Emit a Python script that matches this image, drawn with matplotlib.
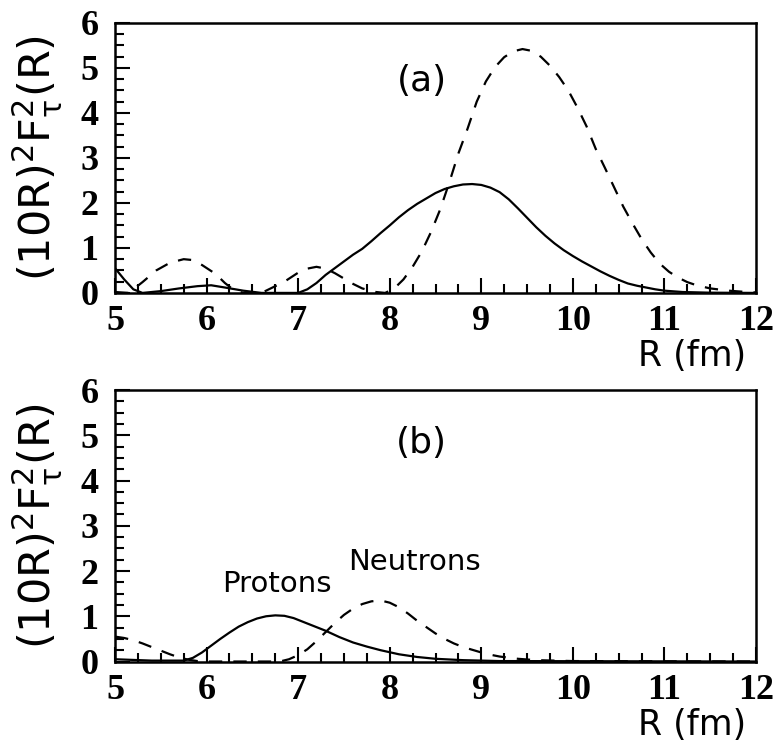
import numpy as np
import matplotlib
matplotlib.use("Agg")
import matplotlib.pyplot as plt
from matplotlib.ticker import MultipleLocator

# panel (a): R in fm
r_a_solid = [5.0, 5.1, 5.2, 5.3, 5.5, 5.7, 5.9, 6.05, 6.2, 6.4, 6.6, 7.0, 7.1, 7.2, 7.3,
             7.4, 7.5, 7.6, 7.7, 7.8, 7.9, 8.0, 8.1, 8.2, 8.3, 8.4, 8.5, 8.6, 8.7, 8.8,
             8.9, 9.0, 9.1, 9.2, 9.3, 9.4, 9.5, 9.6, 9.7, 9.8, 9.9, 10.0, 10.1, 10.2,
             10.3, 10.4, 10.5, 10.6, 10.7, 10.8, 10.9, 11.0, 11.2, 11.5, 12.0]
f_a_solid = [0.55, 0.3, 0.08, 0.0, 0.04, 0.1, 0.15, 0.17, 0.12, 0.05, 0.0, 0.0, 0.08, 0.22, 0.4,
             0.55, 0.7, 0.85, 0.98, 1.15, 1.33, 1.5, 1.68, 1.84, 1.98, 2.1, 2.22, 2.31, 2.37, 2.41,
             2.42, 2.4, 2.34, 2.24, 2.08, 1.88, 1.67, 1.46, 1.27, 1.1, 0.95, 0.82, 0.7, 0.59,
             0.48, 0.38, 0.29, 0.21, 0.16, 0.12, 0.08, 0.05, 0.02, 0.005, 0.0]

r_a_dash = [5.0, 5.15, 5.3, 5.45, 5.6, 5.75, 5.85, 5.95, 6.1, 6.2, 6.3, 6.4, 6.6, 6.7, 6.85,
            7.0, 7.1, 7.2, 7.3, 7.4, 7.5, 7.6, 7.7, 7.85, 7.95, 8.05, 8.15, 8.25, 8.35, 8.45,
            8.55, 8.65, 8.75, 8.85, 8.95, 9.05, 9.15, 9.25, 9.35, 9.45, 9.55, 9.65, 9.75,
            9.85, 9.95, 10.05, 10.15, 10.25, 10.35, 10.45, 10.55, 10.65, 10.75, 10.85,
            10.95, 11.05, 11.15, 11.25, 11.35, 11.5, 11.7, 11.9, 12.0]
f_a_dash = [0.02, 0.0, 0.24, 0.5, 0.67, 0.75, 0.73, 0.62, 0.42, 0.22, 0.06, 0.0, 0.0, 0.1, 0.25,
            0.45, 0.54, 0.58, 0.54, 0.44, 0.32, 0.2, 0.1, 0.02, 0.0, 0.1, 0.3, 0.58, 0.92, 1.35,
            1.85, 2.45, 3.1, 3.65, 4.25, 4.7, 5.02, 5.24, 5.37, 5.42, 5.38, 5.25, 5.05,
            4.8, 4.5, 4.12, 3.7, 3.2, 2.78, 2.35, 1.92, 1.55, 1.2, 0.9,
            0.65, 0.47, 0.34, 0.24, 0.17, 0.1, 0.05, 0.02, 0.01]

# panel (b): protons (solid) and neutrons (dashed)
r_protons = [5.0, 5.4, 5.75, 5.85, 5.95, 6.05, 6.15, 6.25, 6.35, 6.45, 6.55, 6.65, 6.75, 6.85,
             6.95, 7.05, 7.15, 7.3, 7.45, 7.6, 7.75, 7.9, 8.1, 8.3, 8.5, 8.8, 9.2, 12.0]
f_protons = [0.05, 0.02, 0.02, 0.08, 0.2, 0.35, 0.5, 0.64, 0.77, 0.87, 0.95, 1.0, 1.02, 1.01,
             0.96, 0.88, 0.8, 0.68, 0.54, 0.42, 0.33, 0.25, 0.16, 0.1, 0.06, 0.03, 0.01, 0.0]

r_neutrons = [5.0, 5.1, 5.2, 5.3, 5.4, 5.5, 5.6, 5.7, 5.8, 5.9, 6.0, 6.8, 6.9, 7.0, 7.1, 7.2,
              7.3, 7.4, 7.5, 7.6, 7.7, 7.8, 7.9, 8.0, 8.1, 8.2, 8.3, 8.4, 8.5, 8.6, 8.7, 8.8,
              8.9, 9.0, 9.1, 9.2, 9.4, 9.6, 10.0, 12.0]
f_neutrons = [0.55, 0.52, 0.47, 0.4, 0.32, 0.24, 0.16, 0.09, 0.04, 0.01, 0.0, 0.0, 0.05, 0.14,
              0.27, 0.45, 0.65, 0.85, 1.03, 1.17, 1.27, 1.33, 1.35, 1.3, 1.2, 1.06, 0.9, 0.76,
              0.62, 0.5, 0.4, 0.32, 0.26, 0.2, 0.15, 0.11, 0.06, 0.03, 0.01, 0.0]

xticks = [5, 6, 7, 8, 9, 10, 11, 12]
yticks = [0, 1, 2, 3, 4, 5, 6]
ylabel = "(10R)$^2$F$_\\tau^2$(R)"
xlabel = "R (fm)"

plt.rcParams["mathtext.default"] = "regular"
plt.rcParams["font.family"] = "DejaVu Sans"

fig = plt.figure(figsize=(7.73, 7.53), dpi=100)
ax_a = fig.add_axes([0.1488, 0.611, 0.8292, 0.3585])
ax_b = fig.add_axes([0.1488, 0.1215, 0.8292, 0.3605])

ax_a.plot(r_a_solid, f_a_solid, color="black", lw=1.6)
ax_a.plot(r_a_dash, f_a_dash, color="black", lw=1.6, dashes=(6, 5))
ax_b.plot(r_protons, f_protons, color="black", lw=1.6)
ax_b.plot(r_neutrons, f_neutrons, color="black", lw=1.6, dashes=(6, 5))

ax_a.text(8.35, 4.72, "(a)", fontsize=26, ha="center", va="center")
ax_b.text(8.35, 4.82, "(b)", fontsize=26, ha="center", va="center")
ax_b.text(6.77, 1.72, "Protons", fontsize=21, ha="center", va="center")
ax_b.text(8.27, 2.2, "Neutrons", fontsize=21, ha="center", va="center")

for ax in (ax_a, ax_b):
    ax.set_xlim(5, 12)
    ax.set_ylim(0, 6)
    ax.set_xticks(xticks)
    ax.set_yticks(yticks)
    ax.xaxis.set_minor_locator(MultipleLocator(0.25))
    ax.yaxis.set_minor_locator(MultipleLocator(0.25))
    ax.tick_params(which="both", direction="in", top=False, right=False, width=1.5)
    ax.tick_params(which="major", length=11)
    ax.tick_params(which="minor", length=6.5)
    ax.tick_params(axis="y", pad=12)
    ax.tick_params(axis="x", pad=9)
    for lab in ax.get_xticklabels() + ax.get_yticklabels():
        lab.set_fontfamily("Liberation Serif")
        lab.set_fontweight("bold")
        lab.set_fontsize(26)
    for sp in ax.spines.values():
        sp.set_linewidth(1.8)
    ax.set_ylabel(ylabel, fontsize=31)
    ax.yaxis.set_label_coords(-0.08, 0.5)
    ax.set_xlabel(xlabel, fontsize=25)
    ax.xaxis.set_label_coords(0.985, -0.17)
    ax.xaxis.label.set_horizontalalignment("right")

fig.savefig("out.png", dpi=100)
